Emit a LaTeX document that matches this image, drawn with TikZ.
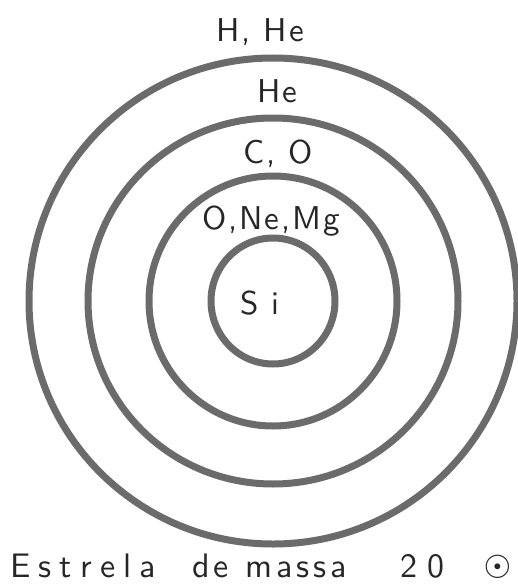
\documentclass[tikz,border=0pt]{standalone}
\usepackage{fontspec}
\newfontfamily\symfont{DejaVu Sans}
\newfontfamily\handfont{lmsans10-regular.otf}[LetterSpace=6]
\newfontfamily\handwide{lmsans10-regular.otf}[LetterSpace=24]
\newfontfamily\handmid{lmsans10-regular.otf}[LetterSpace=12]
\begin{document}
\begin{tikzpicture}[x=1pt,y=-1pt,
  ring/.style={draw=black!58, line width=7pt},
  lbl/.style={font=\handfont\fontsize{33}{35}\selectfont, text=black!85, inner sep=0pt, anchor=base},
  captiontext/.style={font=\handmid\fontsize{34}{36}\selectfont, text=black!85, inner sep=0pt, anchor=base west}]
\useasboundingbox (0,0) rectangle (518,586);
\coordinate (c) at (273,301);
\draw[ring] (c) ellipse [x radius=244pt, y radius=243pt];
\draw[ring] (c) ellipse [x radius=185pt, y radius=183pt];
\draw[ring] (c) ellipse [x radius=124pt, y radius=125pt];
\draw[ring] (c) ellipse [x radius=62pt, y radius=63pt];
\node[lbl] (hhe) at (260,42) {H, He};
\node[lbl] (he) at (277,102) {He};
\node[lbl] (co) at (278,163) {C, O};
\node[lbl] (onemg) at (271,229) {O,Ne,Mg};
\node[lbl] (si) at (260,314) {S i};
\node[captiontext, font=\handwide\fontsize{34}{36}\selectfont] (w1) at (10,577) {Estrela};
\node[captiontext] (w2) at (192,577) {de};
\node[captiontext] (w3) at (245,577) {massa};
\node[captiontext] (w4) at (400,577) {2\hspace{10pt}0};
\node[font=\symfont\fontsize{32}{34}\selectfont, text=black!85, inner sep=0pt] (sun) at (498,567) {☉};
\end{tikzpicture}
\end{document}
